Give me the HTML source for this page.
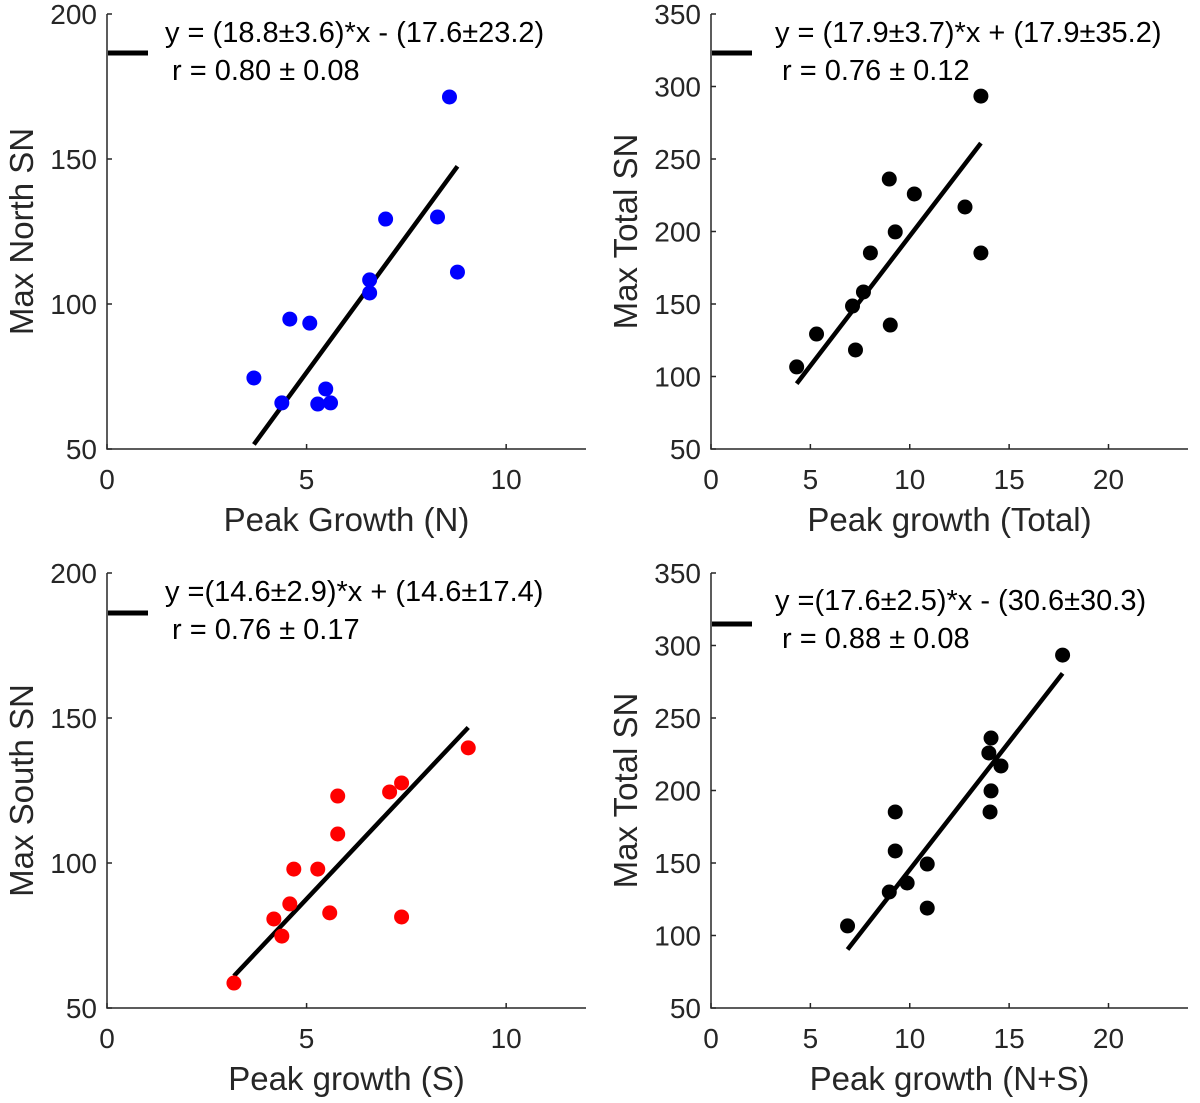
<!DOCTYPE html>
<html><head><meta charset="utf-8"><style>
html,body{margin:0;padding:0;background:#fff;}
svg{display:block;font-family:"Liberation Sans",sans-serif;}
</style></head><body>
<svg id="fig" width="1200" height="1103" viewBox="0 0 1200 1103"></svg>
<script>
// Panel A: North
const xA=[8.58,6.98,8.28,8.78,6.58,6.58,4.58,5.08,3.68,4.38,5.48,5.28,5.6];
const yA=[171.4,129.3,130.0,111.0,108.3,103.8,94.8,93.4,74.5,65.9,70.7,65.5,65.9];
// Panel B: Total
const xB=[13.58,8.97,10.23,12.78,9.27,13.58,8.02,7.67,7.12,5.31,9.02,7.27,4.31];
const yB=[293.4,236.2,225.9,216.9,199.7,185.2,185.2,158.3,148.6,129.3,135.5,118.3,106.6];
// Panel C: South
const xC=[9.05,7.38,7.08,5.78,5.78,4.68,5.28,4.58,4.18,4.38,5.58,7.38,3.18];
const yC=[139.7,127.6,124.5,123.1,110.0,97.9,97.9,85.9,80.7,74.8,82.8,81.4,58.6];
// Panel D: N+S
const xD=[17.69,14.09,13.98,14.59,14.09,14.04,9.27,9.27,10.88,9.87,8.97,10.88,6.87];
const yD=[293.4,236.2,225.9,216.9,199.7,185.2,185.2,158.3,149.3,136.2,130.0,118.9,106.6];
// Fit parameters [slope, intercept]
const fitA=[18.8,-17.6], fitB=[17.9,17.9], fitC=[14.6,14.6], fitD=[17.6,-30.6];
const xTicksSmall=[0,5,10], xTicksLarge=[0,5,10,15,20];
const yTicksSmall=[50,100,150,200], yTicksLarge=[50,100,150,200,250,300,350];

const NS='http://www.w3.org/2000/svg';
const svg=document.getElementById('fig');
function mk(tag,attrs,parent,text){const e=document.createElementNS(NS,tag);for(const k in attrs)e.setAttribute(k,attrs[k]);if(text!==undefined)e.textContent=text;(parent||svg).appendChild(e);return e;}

const panels=[
 {id:'north',left:107,top:14,right:586,bottom:449,xmax:12,ymin:50,ymax:200,xt:xTicksSmall,yt:yTicksSmall,xs:xA,ys:yA,fit:fitA,color:'#0000ff',xl:'Peak Growth (N)',yl:'Max North SN',eq:'y = (18.8±3.6)*x - (17.6±23.2)',r:'r = 0.80 ± 0.08',legY:53,eqY:42,rY:80,eqX:165,rX:172},
 {id:'total',left:711,top:14,right:1188,bottom:449,xmax:24,ymin:50,ymax:350,xt:xTicksLarge,yt:yTicksLarge,xs:xB,ys:yB,fit:fitB,color:'#000000',xl:'Peak growth (Total)',yl:'Max Total SN',eq:'y = (17.9±3.7)*x + (17.9±35.2)',r:'r = 0.76 ± 0.12',legY:53,eqY:42,rY:80,eqX:775,rX:782},
 {id:'south',left:107,top:573,right:586,bottom:1008,xmax:12,ymin:50,ymax:200,xt:xTicksSmall,yt:yTicksSmall,xs:xC,ys:yC,fit:fitC,color:'#ff0000',xl:'Peak growth (S)',yl:'Max South SN',eq:'y =(14.6±2.9)*x + (14.6±17.4)',r:'r = 0.76 ± 0.17',legY:613,eqY:601,rY:639,eqX:165,rX:172},
 {id:'ns',left:711,top:573,right:1188,bottom:1008,xmax:24,ymin:50,ymax:350,xt:xTicksLarge,yt:yTicksLarge,xs:xD,ys:yD,fit:fitD,color:'#000000',xl:'Peak growth (N+S)',yl:'Max Total SN',eq:'y =(17.6±2.5)*x - (30.6±30.3)',r:'r = 0.88 ± 0.08',legY:624,eqY:610,rY:648,eqX:775,rX:782}
];

panels.forEach(p=>{
 const g=mk('g',{});
 
 
 const sx=v=>p.left+v/p.xmax*(p.right-p.left);
 const sy=v=>p.bottom-(v-p.ymin)/(p.ymax-p.ymin)*(p.bottom-p.top);
 const ax=mk('path',{d:`M${p.left},${p.top}V${p.bottom}H${p.right}`,fill:'none',stroke:'#262626','stroke-width':1.5},g);
 
 
 p.xt.forEach(t=>{
  const x=sx(t);
  mk('line',{x1:x,x2:x,y1:p.bottom,y2:p.bottom-5,stroke:'#262626','stroke-width':1.5},g);
  const tx=mk('text',{x:x,y:p.bottom+40,'text-anchor':'middle','font-size':28,fill:'#262626'},g,String(t));
  
  
 });
 p.yt.forEach(t=>{
  const y=sy(t);
  mk('line',{x1:p.left,x2:p.left+5,y1:y,y2:y,stroke:'#262626','stroke-width':1.5},g);
  const tx=mk('text',{x:p.left-10,y:y+10,'text-anchor':'end','font-size':28,fill:'#262626'},g,String(t));
  
  
 });
 const xl=mk('text',{x:(p.left+p.right)/2,y:p.bottom+82,'text-anchor':'middle','font-size':33,fill:'#262626'},g,p.xl);
 
 
 const cy=(p.top+p.bottom)/2;
 const yl=mk('text',{x:0,y:0,'text-anchor':'middle','font-size':33,fill:'#262626',transform:`translate(${p.left-74},${cy}) rotate(-90)`},g,p.yl);
 
 
 const x0=Math.min(...p.xs), x1=Math.max(...p.xs);
 const fl=mk('line',{x1:sx(x0),y1:sy(p.fit[0]*x0+p.fit[1]),x2:sx(x1),y2:sy(p.fit[0]*x1+p.fit[1]),stroke:'#000','stroke-width':4.5},g);
 
 
 p.xs.forEach((v,i)=>{
  const c=mk('circle',{cx:sx(v),cy:sy(p.ys[i]),r:7.5,fill:p.color},g);
  
  
 });
 const lg=mk('line',{x1:p.left+1,x2:p.left+41,y1:p.legY,y2:p.legY,stroke:'#000','stroke-width':5},g);
 
 
 const eq=mk('text',{x:p.eqX,y:p.eqY,'font-size':29,fill:'#000'},g,p.eq);
 
 
 const rr=mk('text',{x:p.rX,y:p.rY,'font-size':29,fill:'#000'},g,p.r);
 
 
});
</script>
</body></html>
